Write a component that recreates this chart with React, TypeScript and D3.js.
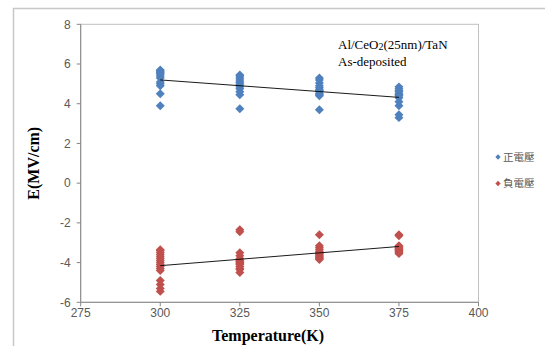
import React from "react";
import * as d3 from "d3";

const temps = [300, 325, 350, 375];
const xTicks = [275, 300, 325, 350, 375, 400];
const yTicks = [-6, -4, -2, 0, 2, 4, 6, 8];

const posValues: number[][] = [
  [5.7, 5.65, 5.6, 5.55, 5.5, 5.4, 5.3, 5.1, 5.0, 4.9, 4.5, 3.9],
  [5.45, 5.4, 5.3, 5.2, 5.1, 5.05, 4.95, 4.85, 4.75, 4.6, 4.45, 3.75],
  [5.3, 5.2, 5.05, 4.9, 4.8, 4.7, 4.65, 4.6, 4.5, 4.45, 4.4, 3.7],
  [4.85, 4.75, 4.65, 4.6, 4.5, 4.45, 4.4, 4.3, 4.1, 3.9, 3.45, 3.3],
];
const negValues: number[][] = [
  [-3.35, -3.4, -3.5, -3.6, -3.7, -3.8, -3.9, -4.0, -4.1, -4.2, -4.3, -4.4, -4.9, -5.1, -5.3, -5.45],
  [-2.35, -2.45, -3.5, -3.65, -3.8, -3.9, -3.95, -4.0, -4.05, -4.1, -4.2, -4.3, -4.35, -4.5],
  [-2.6, -3.15, -3.25, -3.35, -3.45, -3.5, -3.55, -3.6, -3.65, -3.7, -3.75, -3.8, -3.85],
  [-2.6, -2.65, -3.15, -3.2, -3.25, -3.3, -3.35, -3.35, -3.4, -3.45, -3.5, -3.55],
];
const seriesNames = ["正電壓", "負電壓"];
const seriesColors = ["#4F81BD", "#C0504D"];
const xTitle = "Temperature(K)";
const yTitle = "E(MV/cm)";

function flatten(vals: number[][]) {
  const pts: { x: number; y: number }[] = [];
  vals.forEach((arr, i) => arr.forEach((v) => pts.push({ x: temps[i], y: v })));
  return pts;
}

function fit(pts: { x: number; y: number }[]) {
  const mx = d3.mean(pts, (p) => p.x)!;
  const my = d3.mean(pts, (p) => p.y)!;
  const sxy = d3.sum(pts, (p) => (p.x - mx) * (p.y - my));
  const sxx = d3.sum(pts, (p) => (p.x - mx) * (p.x - mx));
  const b = sxy / sxx;
  const a = my - b * mx;
  return (x: number) => a + b * x;
}

export default function App() {
  const W = 545, H = 346;
  const left = 80.7, right = 478.5, top = 24.3, bottom = 302.3;
  const x = d3.scaleLinear().domain([275, 400]).range([left, right]);
  const y = d3.scaleLinear().domain([-6, 8]).range([bottom, top]);
  const diamond = d3.symbol().type(d3.symbolSquare).size(40)();
  const legDiamond = d3.symbol().type(d3.symbolSquare).size(14)();
  const series = [flatten(posValues), flatten(negValues)];
  const tickFont = "'Liberation Sans Narrow', 'Liberation Sans', sans-serif";
  const serif = "'Liberation Serif', 'Times New Roman', serif";
  return (
    <svg width={W} height={H} style={{ position: "absolute", left: 0, top: 0, background: "#fff" }}>
      <rect x={13.5} y={8.5} width={W} height={H} fill="#fff" stroke="#c8c8c8" strokeWidth={1.5} />
      <rect x={left} y={top} width={right - left} height={bottom - top} fill="none" stroke="#c0c0c0" strokeWidth={1} />
      <line x1={left} x2={left} y1={top} y2={bottom} stroke="#868686" />
      <line x1={left} x2={right} y1={bottom} y2={bottom} stroke="#868686" />
      {yTicks.map((t) => (
        <g key={"y" + t}>
          <line x1={left - 4} x2={left} y1={y(t)} y2={y(t)} stroke="#868686" />
          <text x={left - 10} y={y(t)} dy="0.35em" textAnchor="end" fontFamily={tickFont} fontSize={12} fill="#595959">
            {t}
          </text>
        </g>
      ))}
      {xTicks.map((t) => (
        <g key={"x" + t}>
          <line x1={x(t)} x2={x(t)} y1={bottom} y2={bottom + 4} stroke="#868686" />
          <text x={x(t)} y={bottom + 15} textAnchor="middle" fontFamily={tickFont} fontSize={12} fill="#595959">
            {t}
          </text>
        </g>
      ))}
      {series.map((pts, si) => (
        <g key={"s" + si}>
          {pts.map((p, i) => (
            <path key={i} d={diamond} transform={`translate(${x(p.x)},${y(p.y)}) rotate(45)`} fill={seriesColors[si]} />
          ))}
        </g>
      ))}
      {series.map((pts, si) => {
        const f = fit(pts);
        const t0 = temps[0], t1 = temps[temps.length - 1];
        return (
          <line key={"t" + si} x1={x(t0)} y1={y(f(t0))} x2={x(t1)} y2={y(f(t1))} stroke="#000" strokeWidth={0.9} />
        );
      })}
      <text x={338} y={49} fontFamily={serif} fontSize={13} fill="#000">
        Al/CeO<tspan fontSize={10} dy={1}>2</tspan><tspan dy={-1}>(25nm)/TaN</tspan>
      </text>
      <text x={338} y={66} fontFamily={serif} fontSize={13} fill="#000">
        As-deposited
      </text>
      {seriesNames.map((n, i) => (
        <g key={"l" + i} transform={`translate(498,${157 + i * 26.5})`}>
          <path d={legDiamond} transform="rotate(45)" fill={seriesColors[i]} />
          <text x={5} y={0} dy="0.35em" fontFamily="'Noto Sans CJK TC', sans-serif" fontSize={10.5} fill="#595959">
            {n}
          </text>
        </g>
      ))}
      <text x={268} y={341} textAnchor="middle" fontFamily={serif} fontWeight="bold" fontSize={16} fill="#000">
        {xTitle}
      </text>
      <text
        transform={`translate(39,${(top + bottom) / 2}) rotate(-90)`}
        textAnchor="middle"
        fontFamily={serif}
        fontWeight="bold"
        fontSize={16}
        fill="#000"
      >
        {yTitle}
      </text>
    </svg>
  );
}
